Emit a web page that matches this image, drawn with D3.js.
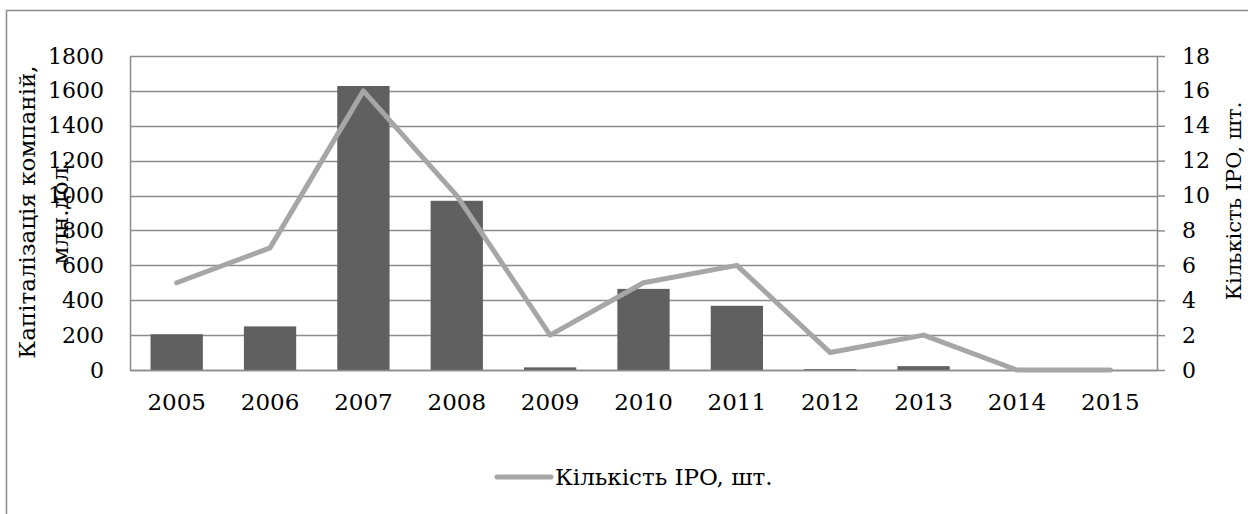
<!DOCTYPE html>
<html>
<head>
<meta charset="utf-8">
<script src="https://cdn.jsdelivr.net/npm/d3@7"></script>
<style>
  body { margin: 0; background: #fff; }
  text { font-family: "DejaVu Serif", serif; fill: #000; }
</style>
</head>
<body>
<svg width="1248" height="514"></svg>
<script>
// years on the x axis
const years = ["2005", "2006", "2007", "2008", "2009", "2010", "2011", "2012", "2013", "2014", "2015"];
// capitalization, mln USD (bars)
const capitalization = [205, 250, 1628, 970, 15, 465, 368, 5, 22, 0, 0];
// number of IPOs (line)
const ipoCount = [5, 7, 16, 10, 2, 5, 6, 1, 2, 0, 0];

const leftTicks = [0, 200, 400, 600, 800, 1000, 1200, 1400, 1600, 1800];
const rightTicks = [0, 2, 4, 6, 8, 10, 12, 14, 16, 18];

const svg = d3.select("svg");
const fontSize = 22;

// outer chart frame (goes past the right/bottom edges)
svg.append("rect")
   .attr("x", 6.5).attr("y", 10.5)
   .attr("width", 1300).attr("height", 600)
   .attr("fill", "none")
   .attr("stroke", "#8c8c8c")
   .attr("stroke-width", 1.5);

const plot = { left: 130, right: 1157, top: 56, bottom: 370 };

const x = d3.scaleBand()
            .domain(years)
            .range([plot.left, plot.right])
            .paddingInner(0.44)
            .paddingOuter(0.22);

const yLeft = d3.scaleLinear().domain([0, 1800]).range([plot.bottom, plot.top]);
const yRight = d3.scaleLinear().domain([0, 18]).range([plot.bottom, plot.top]);

// gridlines
svg.append("g")
   .selectAll("line")
   .data(leftTicks)
   .join("line")
   .attr("x1", plot.left).attr("x2", plot.right)
   .attr("y1", d => Math.round(yLeft(d)) + 0.5)
   .attr("y2", d => Math.round(yLeft(d)) + 0.5)
   .attr("stroke", "#8c8c8c")
   .attr("stroke-width", 1.5);

// left axis
const leftAxis = svg.append("g")
   .attr("transform", "translate(" + plot.left + ",0)")
   .call(d3.axisLeft(yLeft).tickValues(leftTicks).tickFormat(d3.format("d")).tickSize(0).tickPadding(26));
leftAxis.select(".domain").attr("stroke", "#8c8c8c").attr("stroke-width", 1.5);
leftAxis.selectAll("text").style("font-size", fontSize + "px").attr("font-family", null);

// right axis
const rightAxis = svg.append("g")
   .attr("transform", "translate(" + plot.right + ",0)")
   .call(d3.axisRight(yRight).tickValues(rightTicks).tickSizeOuter(0).tickSizeInner(8).tickPadding(17));
rightAxis.select(".domain").attr("stroke", "#8c8c8c").attr("stroke-width", 1.5);
rightAxis.selectAll(".tick line").attr("stroke", "#8c8c8c").attr("stroke-width", 1.5);
rightAxis.selectAll("text").style("font-size", fontSize + "px").attr("font-family", null);

// bars
svg.append("g")
   .selectAll("rect")
   .data(capitalization)
   .join("rect")
   .attr("x", (d, i) => x(years[i]))
   .attr("width", x.bandwidth())
   .attr("y", d => yLeft(d))
   .attr("height", d => plot.bottom - yLeft(d))
   .attr("fill", "#606060");

// bottom axis
const bottomAxis = svg.append("g")
   .attr("transform", "translate(0," + plot.bottom + ")")
   .call(d3.axisBottom(x).tickSize(0).tickPadding(24));
bottomAxis.select(".domain").attr("stroke", "#8c8c8c").attr("stroke-width", 1.5);
bottomAxis.selectAll("text").style("font-size", "23px").attr("font-family", null);

// IPO line
const line = d3.line()
               .x((d, i) => x(years[i]) + x.bandwidth() / 2)
               .y(d => yRight(d));

svg.append("path")
   .datum(ipoCount)
   .attr("d", line)
   .attr("fill", "none")
   .attr("stroke", "#a6a6a6")
   .attr("stroke-width", 5)
   .attr("stroke-linejoin", "round")
   .attr("stroke-linecap", "round");

// axis titles
const leftTitle = svg.append("text")
   .attr("transform", "translate(0,212) rotate(-90)")
   .attr("text-anchor", "middle")
   .style("font-size", "23px");
leftTitle.append("tspan").attr("x", 0).attr("y", 35).text("Капіталізація компаній,");
leftTitle.append("tspan").attr("x", 0).attr("y", 68).text("млн.дол.");

svg.append("text")
   .attr("transform", "translate(1241,201) rotate(-90)")
   .attr("text-anchor", "middle")
   .style("font-size", "21px")
   .text("Кількість IPO, шт.");

// legend
const legend = svg.append("g").attr("transform", "translate(497,477)");
legend.append("line")
      .attr("x1", 0).attr("x2", 54)
      .attr("stroke", "#a6a6a6")
      .attr("stroke-width", 5)
      .attr("stroke-linecap", "round");
legend.append("text")
      .attr("x", 58).attr("dy", "0.35em")
      .style("font-size", "23px")
      .text("Кількість IPO, шт.");
</script>
</body>
</html>
